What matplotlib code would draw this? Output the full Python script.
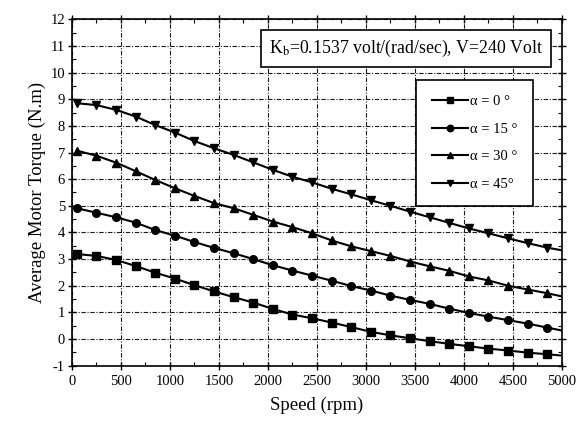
import matplotlib
matplotlib.use("Agg")
import matplotlib.pyplot as plt
from matplotlib.ticker import MultipleLocator

# Motor speed (rpm) at which torque was computed; final point closes the curve at 5000 rpm
speed = [50, 250, 450, 650, 850, 1050, 1250, 1450, 1650, 1850, 2050, 2250, 2450,
         2650, 2850, 3050, 3250, 3450, 3650, 3850, 4050, 4250, 4450, 4650, 4850, 5000]

# Average motor torque (N.m) for each firing angle
torque_a0 = [3.19, 3.12, 2.97, 2.74, 2.49, 2.27, 2.02, 1.79, 1.57, 1.37, 1.13, 0.92, 0.78,
             0.62, 0.45, 0.27, 0.14, 0.03, -0.08, -0.18, -0.27, -0.36, -0.43, -0.51, -0.57, -0.62]
torque_a15 = [4.91, 4.74, 4.57, 4.37, 4.09, 3.88, 3.64, 3.42, 3.22, 3.00, 2.77, 2.57, 2.38,
              2.19, 1.99, 1.82, 1.63, 1.47, 1.32, 1.14, 0.98, 0.84, 0.71, 0.58, 0.43, 0.32]
torque_a30 = [7.07, 6.88, 6.62, 6.30, 5.97, 5.66, 5.37, 5.10, 4.91, 4.66, 4.41, 4.20, 3.97,
              3.70, 3.48, 3.30, 3.12, 2.91, 2.73, 2.56, 2.35, 2.20, 2.00, 1.86, 1.72, 1.60]
torque_a45 = [8.85, 8.78, 8.60, 8.35, 8.03, 7.75, 7.43, 7.16, 6.91, 6.63, 6.35, 6.09, 5.88,
              5.64, 5.43, 5.21, 5.00, 4.78, 4.57, 4.36, 4.15, 3.97, 3.78, 3.60, 3.43, 3.33]

series = [
    (torque_a0, "s", "α = 0 °"),
    (torque_a15, "o", "α = 15 °"),
    (torque_a30, "^", "α = 30 °"),
    (torque_a45, "v", "α = 45°"),
]

plt.rcParams["font.family"] = ["Liberation Serif", "DejaVu Serif"]
plt.rcParams["mathtext.fontset"] = "stix"
plt.rcParams["axes.unicode_minus"] = False

fig = plt.figure(figsize=(5.82, 4.22), dpi=100)
ax = fig.add_axes([0.1237, 0.1334, 0.8419, 0.8209])

marks = list(range(len(speed) - 1))
for vals, mk, lab in series:
    ax.plot(speed, vals, color="black", lw=1.5, marker=mk, markersize=5.5,
            markevery=marks, label=lab)

ax.set_xlim(0, 5000)
ax.set_ylim(-1, 12)
ax.xaxis.set_major_locator(MultipleLocator(500))
ax.xaxis.set_minor_locator(MultipleLocator(250))
ax.yaxis.set_major_locator(MultipleLocator(1))
ax.yaxis.set_minor_locator(MultipleLocator(0.5))
ax.tick_params(which="major", direction="inout", length=6, width=1, labelsize=10.5,
               top=True, right=True)
ax.tick_params(which="minor", direction="in", length=3, width=0.8, top=True, right=True)
ax.tick_params(axis="y", pad=2)
ax.tick_params(axis="x", pad=4)
for s in ax.spines.values():
    s.set_linewidth(1.2)

ax.grid(True, which="major", color="#1a1a1a", linestyle=(0, (4, 1.5, 1, 1.5)), linewidth=0.8)

ax.set_xlabel("Speed (rpm)", fontsize=13.5, labelpad=6)
ax.set_ylabel("Average Motor Torque (N.m)", fontsize=13.5, labelpad=3)

ax.text(0.961, 0.916, r"K$_\mathrm{b}$=0.1537 volt/(rad/sec), V=240 Volt",
        transform=ax.transAxes, ha="right", va="center", fontsize=12.8,
        bbox=dict(boxstyle="square,pad=0.45", facecolor="white", edgecolor="black", lw=1.2))

leg = ax.legend(loc="upper right", bbox_to_anchor=(0.941, 0.825), fontsize=10.5,
                frameon=True, fancybox=False, edgecolor="black", framealpha=1,
                handlelength=2.5, handletextpad=0.15, labelspacing=0.98,
                borderpad=1.05, borderaxespad=0, markerscale=0.85)
leg.get_frame().set_linewidth(1.2)

fig.savefig("out.png", dpi=100)
